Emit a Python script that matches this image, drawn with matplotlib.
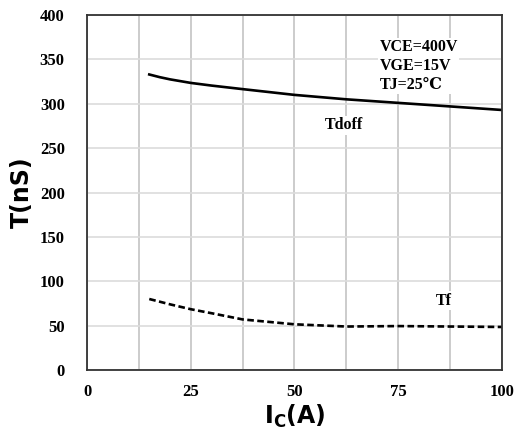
import numpy as np
import matplotlib.pyplot as plt

# Tdoff / Tf vs collector current
ic = [15, 17.5, 20, 25, 30, 37.5, 50, 62.5, 75, 87.5, 100]
tdoff = [333, 330, 327.5, 323.5, 320.5, 316.5, 310, 305, 301, 297, 293]
tf = [80, 77, 74, 68.5, 64, 57, 51.5, 49, 49.5, 49, 48.5]

xticks = [0, 25, 50, 75, 100]
yticks = [0, 50, 100, 150, 200, 250, 300, 350, 400]

fig = plt.figure(figsize=(5.18, 4.29), dpi=100)
ax = fig.add_axes([0.168, 0.1375, 0.801, 0.8275])

ax.plot(ic, tdoff, color='black', lw=1.9)
ax.plot(ic, tf, color='black', lw=1.9, ls=(0, (2.5, 1.3)))

ax.set_xlim(0, 100)
ax.set_ylim(0, 400)
ax.set_xticks(xticks)
ax.set_yticks(yticks)
ax.set_xticks(np.arange(12.5, 100, 12.5), minor=True)
ax.tick_params(which='both', length=0, pad=10)
ax.tick_params(axis='y', pad=16)
for lab in ax.get_xticklabels() + ax.get_yticklabels():
    lab.set_fontfamily('Liberation Serif')
    lab.set_fontweight('bold')
    lab.set_fontsize(12)

ax.grid(True, axis='x', which='both', color='#c4c4c4', lw=1.2)
ax.grid(True, axis='y', which='major', color='#dcdcdc', lw=1.2)
ax.set_axisbelow(True)
for s in ax.spines.values():
    s.set_linewidth(1.3)
    s.set_color('#333333')

box = dict(facecolor='white', edgecolor='none', pad=1)
ax.text(70.5, 373, 'VCE=400V\nVGE=15V\nTJ=25\u2103', fontfamily=['Liberation Serif', 'DejaVu Serif'],
        fontweight='bold', fontsize=11.5, va='top', ha='left', linespacing=1.25, bbox=box)
ax.text(62, 276, 'Tdoff', fontfamily='Liberation Serif', fontweight='bold', fontsize=11.5,
        ha='center', va='center', bbox=box)
ax.text(86, 78, 'Tf', fontfamily='Liberation Serif', fontweight='bold', fontsize=11.5,
        ha='center', va='center', bbox=box)

ax.set_ylabel('T(nS)', fontsize=17, fontweight='bold', labelpad=4)
ax.set_xlabel(r'I$_{\mathbf{C}}$(A)', fontsize=17, fontweight='bold', labelpad=2)

fig.savefig('out.png', dpi=100)
